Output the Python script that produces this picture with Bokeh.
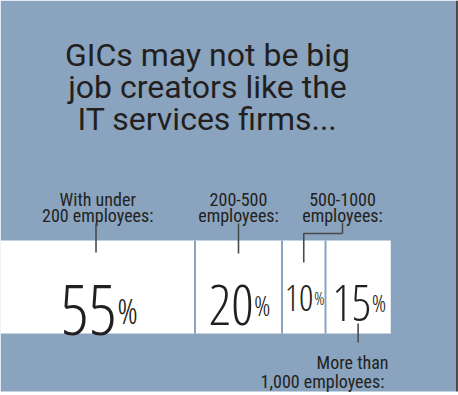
from bokeh.plotting import figure
from bokeh.models import Range1d
from bokeh.core.properties import value
from bokeh.embed import file_html
from bokeh.resources import INLINE

# ---- data ----
title_lines = ["GICs may not be big", "job creators like the", "IT services firms..."]
label_line1 = ["With under", "200-500", "500-1000", "More than"]
label_line2 = ["200 employees:", "employees:", "employees:", "1,000  employees:"]
shares = [55, 20, 10, 15]

# ---- style ----
BG = "#8aa4bf"
INK = "#231f20"
LEAD = "#4a4a4a"
K = 4.35                  # px per percentage point
X0 = 55 - 194.5 / K       # percentage value at the panel's left edge (x = 0 px)
NUM_FONT = "Open Sans Condensed Light"
LAB_FONT = "Roboto Condensed"
TITLE_FONT = "Roboto"
NUM_SIZE = {55: 70, 20: 56, 15: 49, 10: 36}

W, H = 458, 395
p = figure(width=W, height=H, x_range=Range1d(0, W), y_range=Range1d(H, 0),
           output_backend="svg", toolbar_location=None, min_border=0,
           background_fill_color="white", border_fill_color="white", outline_line_color=None)
p.axis.visible = False
p.grid.visible = False
p.extra_x_ranges = {"pct": Range1d(X0, X0 + W / K)}

# panel background
p.quad(left=[0], right=[456], top=[0], bottom=[391], fill_color=BG, line_color=None)
p.segment(x0=[456.5], x1=[456.5], y0=[0], y1=[391], line_color="#1a1a1a", line_width=1.5)

lefts, rights = [], []
acc = 0
for v in shares:
    lefts.append(acc)
    acc += v
    rights.append(acc)
centers = [(max(l, X0) + r) / 2 for l, r in zip(lefts, rights)]

# bar
p.quad(left=lefts, right=rights, top=240, bottom=333, x_range_name="pct",
       fill_color="white", line_color=None)
p.segment(x0=rights[:-1], x1=rights[:-1], y0=240, y1=333, x_range_name="pct",
          line_color=BG, line_width=2)

# title
for i, t in enumerate(title_lines):
    p.text(x=[207], y=[54 + i * 32], text=[t], text_align="center",
           text_baseline="alphabetic", text_color=INK,
           text_font=value(TITLE_FONT), text_font_size="32px")

# percentages
for c, v in zip(centers, shares):
    size = NUM_SIZE.get(v, 44)
    cap = 0.714 * size
    base = 285 + cap / 2
    off = 0.27 * size
    p.text(x=[c], y=[base], text=[str(v)], x_range_name="pct", text_align="right",
           text_baseline="alphabetic", x_offset=off, text_color=INK,
           text_font=value(NUM_FONT), text_font_size=f"{size}px")
    p.text(x=[c], y=[base], text=["%"], x_range_name="pct", text_align="left",
           text_baseline="alphabetic", x_offset=off + 0.5, text_color=INK,
           text_font=value(NUM_FONT), text_font_size=f"{size * 0.5:.1f}px")

# category labels (top three)
for i in range(3):
    if i < 2:
        kw = dict(x=[centers[i]], x_range_name="pct")
    else:
        kw = dict(x=[342])
    p.text(y=[199], text=[label_line1[i]], text_align="center", text_baseline="alphabetic",
           text_color=INK, text_font=value(LAB_FONT), text_font_size="18px", **kw)
    p.text(y=[215], text=[label_line2[i]], text_align="center", text_baseline="alphabetic",
           text_color=INK, text_font=value(LAB_FONT), text_font_size="18px", **kw)

# fourth label (below the bar)
for t, yb in [(label_line1[3], 362), (label_line2[3], 381)]:
    p.text(x=[388], y=[yb], text=[t], text_align="right", text_baseline="alphabetic",
           text_color=INK, text_font=value(LAB_FONT), text_font_size="18px")

# leader lines
p.segment(x0=[centers[0] - 0.4, centers[1]], x1=[centers[0] - 0.4, centers[1]],
          y0=[223, 223], y1=[252, 253], x_range_name="pct", line_color=LEAD, line_width=1.6)
p.line(x=[342, 342], y=[222, 233], line_color=LEAD, line_width=1.6)
p.line(x=[X0 + 342 / K, centers[2], centers[2]], y=[233, 233, 262], x_range_name="pct",
       line_color=LEAD, line_width=1.6)
p.segment(x0=[centers[3]], x1=[centers[3]], y0=[323], y1=[342], x_range_name="pct",
          line_color=LEAD, line_width=1.6)

open("out.html", "w").write(file_html(p, INLINE))
